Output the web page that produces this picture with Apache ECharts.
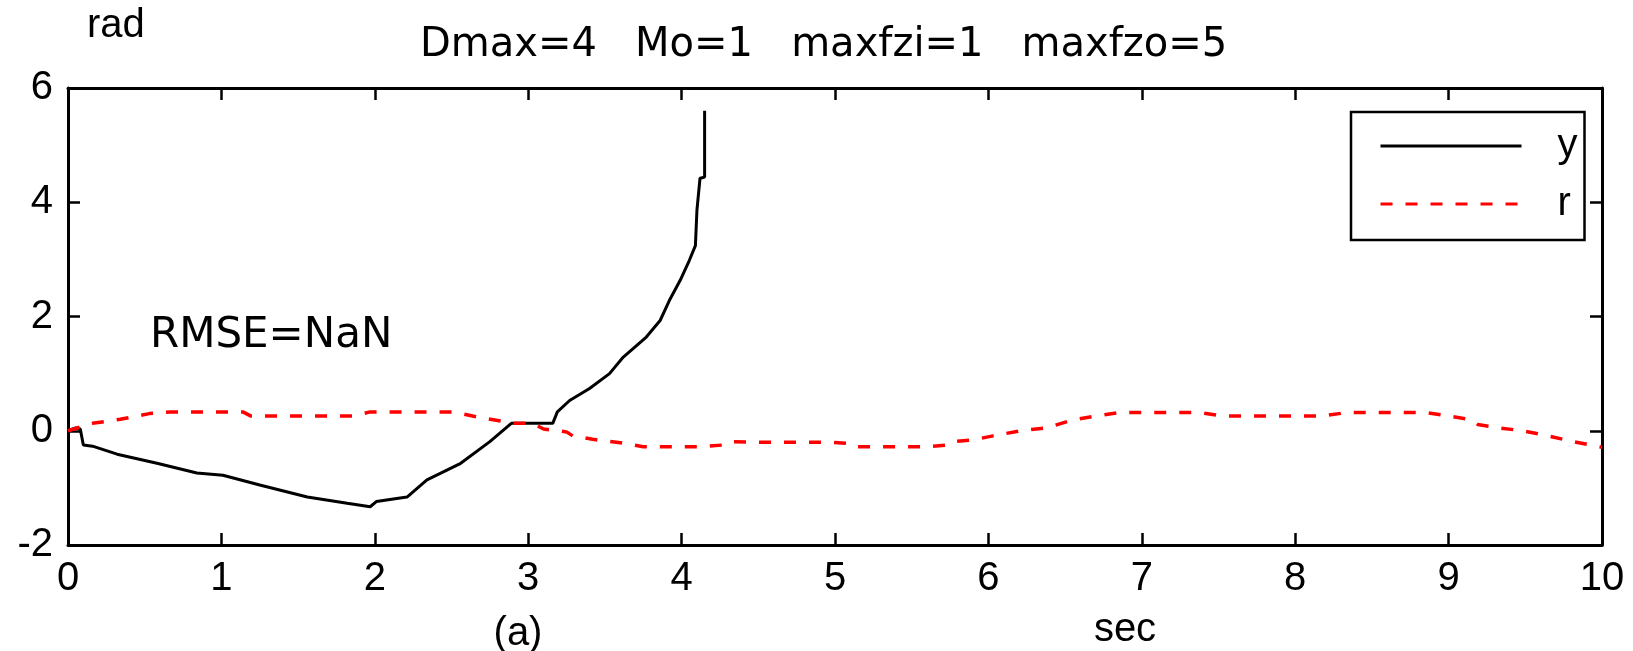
<!DOCTYPE html>
<html>
<head>
<meta charset="utf-8">
<script src="https://cdn.jsdelivr.net/npm/echarts@6/dist/echarts.min.js"></script>
<style>
  html, body { margin: 0; padding: 0; background: #ffffff; }
  #chart { width: 1633px; height: 651px; }
</style>
</head>
<body>
<div id="chart"></div>
<script>
// Output y (rad) against time (sec)
const yTime = [0, 0.05, 0.08, 0.10, 0.16, 0.32, 0.58, 0.84, 1.01, 1.25,
               1.56, 1.82, 1.97, 2.01, 2.21, 2.34, 2.56, 2.75, 2.89, 3.08,
               3.16, 3.19, 3.27, 3.40, 3.53, 3.62, 3.77, 3.86, 3.92, 3.99,
               4.05, 4.09, 4.10, 4.12, 4.15, 4.15];
const yValues = [0, 0.05, 0.03, -0.25, -0.27, -0.41, -0.57, -0.74, -0.78, -0.95,
                 -1.16, -1.27, -1.33, -1.24, -1.16, -0.86, -0.57, -0.19, 0.13, 0.13,
                 0.13, 0.33, 0.53, 0.74, 1.00, 1.29, 1.64, 1.93, 2.28, 2.63,
                 2.98, 3.24, 3.86, 4.42, 4.44, 5.60];

// Reference r (rad) against time (sec)
const rTime = [0, 0.16, 0.34, 0.53, 0.67, 1.14, 1.19, 1.86, 1.97, 2.51,
               2.67, 2.82, 2.90, 3.03, 3.10, 3.25, 3.29, 3.42, 3.60, 3.75,
               4.12, 4.27, 4.32, 4.43, 4.97, 5.08, 5.12, 5.60, 5.73, 5.77,
               5.90, 6.03, 6.21, 6.38, 6.55, 6.71, 6.86, 7.37, 7.52, 8.18,
               8.34, 8.85, 9.00, 9.15, 9.19, 9.33, 9.48, 9.65, 9.81, 10.0];
const rValues = [0, 0.13, 0.20, 0.30, 0.33, 0.33, 0.26, 0.26, 0.33, 0.33,
                 0.24, 0.17, 0.13, 0.13, 0.03, -0.02, -0.09, -0.15, -0.21, -0.28,
                 -0.28, -0.25, -0.19, -0.20, -0.20, -0.22, -0.28, -0.28, -0.25, -0.19,
                 -0.16, -0.09, 0.0, 0.05, 0.19, 0.26, 0.32, 0.32, 0.26, 0.26,
                 0.32, 0.32, 0.26, 0.19, 0.11, 0.05, 0.0, -0.09, -0.19, -0.29];

const seriesNames = ['y', 'r'];
const titleText = 'Dmax=4   Mo=1   maxfzi=1   maxfzo=5';
const annotationText = 'RMSE=NaN';
const yUnit = 'rad';
const xUnit = 'sec';
const panelTag = '(a)';

const toPairs = (xs, vs) => xs.map((x, i) => [x, vs[i]]);

const SANS = '"Liberation Sans", Arial, sans-serif';
const DEJAVU = '"DejaVu Sans", sans-serif';

const axisLineStyle = { color: '#000', width: 3 };
const tickStyle = { show: true, inside: true, length: 12, lineStyle: { color: '#000', width: 2.5 } };

const chart = echarts.init(document.getElementById('chart'), null, { renderer: 'canvas' });

chart.setOption({
  animation: false,
  backgroundColor: '#ffffff',
  title: {
    text: titleText,
    left: 420,
    top: 26,
    padding: 0,
    textStyle: { fontFamily: DEJAVU, fontSize: 40, fontWeight: 'normal', color: '#000' }
  },
  grid: { left: 68, right: 31, top: 88, bottom: 106, containLabel: false, show: false },
  legend: {
    orient: 'vertical',
    left: 1351,
    top: 112,
    padding: [14, 7, 16, 28],
    itemGap: 18,
    itemWidth: 141,
    itemHeight: 40,
    backgroundColor: '#ffffff',
    borderColor: '#000',
    borderWidth: 2.5,
    borderRadius: 0,
    data: seriesNames,
    // line-only keys: the marker dot is hidden
    itemStyle: { opacity: 0 },
    lineStyle: { width: 3 },
    textStyle: { fontFamily: SANS, fontSize: 40, color: '#000', padding: [0, 0, 0, 31] }
  },
  xAxis: [
    {
      type: 'value', min: 0, max: 10, interval: 1,
      axisLine: { show: true, onZero: false, lineStyle: axisLineStyle },
      axisTick: tickStyle,
      axisLabel: { fontFamily: SANS, fontSize: 40, color: '#000', margin: 14 },
      splitLine: { show: false }
    },
    {
      type: 'value', min: 0, max: 10, interval: 1, position: 'top',
      axisLine: { show: true, onZero: false, lineStyle: axisLineStyle },
      axisTick: tickStyle,
      axisLabel: { show: false },
      splitLine: { show: false }
    }
  ],
  yAxis: [
    {
      type: 'value', min: -2, max: 6, interval: 2,
      axisLine: { show: true, onZero: false, lineStyle: axisLineStyle },
      axisTick: tickStyle,
      axisLabel: { fontFamily: SANS, fontSize: 40, color: '#000', margin: 15 },
      splitLine: { show: false }
    },
    {
      type: 'value', min: -2, max: 6, interval: 2, position: 'right',
      axisLine: { show: true, onZero: false, lineStyle: axisLineStyle },
      axisTick: tickStyle,
      axisLabel: { show: false },
      splitLine: { show: false }
    }
  ],
  series: [
    {
      name: seriesNames[0],
      type: 'line',
      data: toPairs(yTime, yValues),
      symbol: 'none',
      lineStyle: { color: '#000000', width: 3 },
      itemStyle: { color: '#000000' },
      z: 3
    },
    {
      name: seriesNames[1],
      type: 'line',
      data: toPairs(rTime, rValues),
      symbol: 'none',
      lineStyle: { color: '#ff0000', width: 3.5, type: [12, 13] },
      itemStyle: { color: '#ff0000' },
      z: 4
    }
  ],
  graphic: [
    {
      type: 'text', left: 87, top: 6,
      style: { text: yUnit, font: '40px ' + SANS, fill: '#000' }
    },
    {
      type: 'text', left: 150, top: 315,
      style: { text: annotationText, font: '42px ' + DEJAVU, fill: '#000' }
    },
    {
      type: 'text', x: 518, y: 634,
      style: { text: panelTag, font: '40px ' + SANS, fill: '#000', align: 'center', verticalAlign: 'middle' }
    },
    {
      type: 'text', x: 1125, y: 630,
      style: { text: xUnit, font: '40px ' + SANS, fill: '#000', align: 'center', verticalAlign: 'middle' }
    }
  ]
});
</script>
</body>
</html>
